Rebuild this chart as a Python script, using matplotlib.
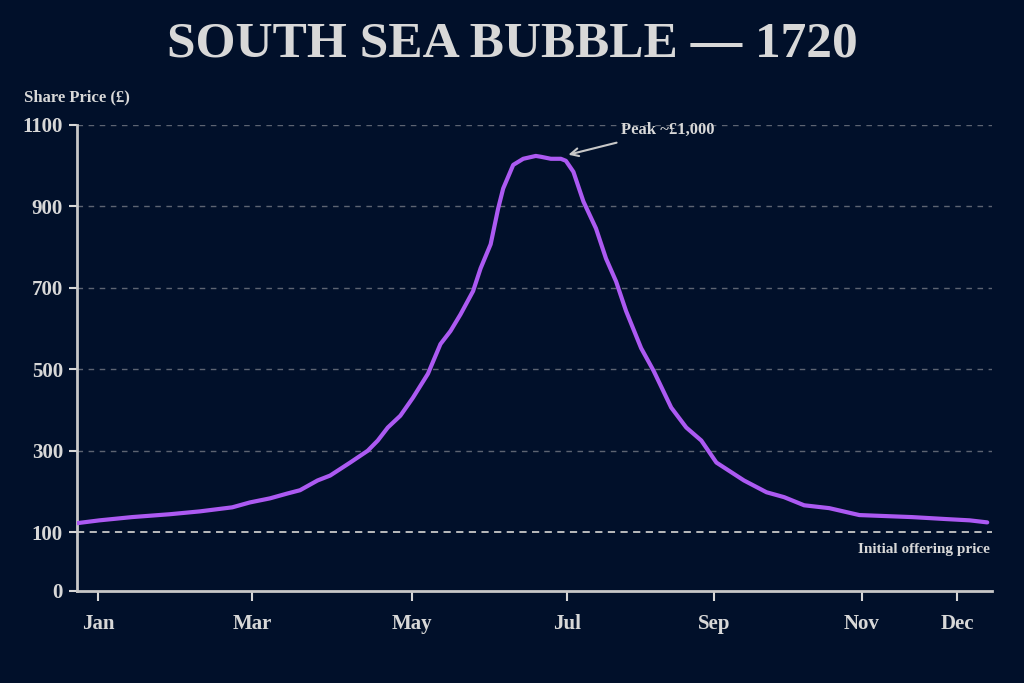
import numpy as np
import matplotlib
matplotlib.use("Agg")
import matplotlib.pyplot as plt

# ===> data (day of year, share price in pounds)
days = [0, 9, 22, 37, 49, 62, 69, 77, 84, 89, 96, 101, 109, 116, 120, 124, 129,
        134, 140, 145, 149, 153, 158, 161, 165, 168, 170, 174, 178, 183, 185, 189,
        193, 195, 198, 202, 207, 211, 215, 219, 225, 230, 237, 243, 249, 255, 266,
        275, 282, 290, 300, 312, 333, 347, 356, 363]
price = [122, 129, 137, 144, 151, 161, 173, 183, 195, 203, 227, 239, 271, 300, 325,
         357, 386, 430, 489, 562, 594, 635, 692, 748, 807, 895, 944, 1002, 1017,
         1024, 1022, 1017, 1017, 1012, 985, 912, 846, 772, 716, 643, 552, 496, 406,
         357, 325, 271, 227, 198, 186, 166, 159, 142, 137, 132, 129, 124]

month_pos = [8.4, 69.8, 133.6, 195.5, 254, 313, 351]
month_lab = ["Jan", "Mar", "May", "Jul", "Sep", "Nov", "Dec"]
y_grid = [300, 500, 700, 900, 1100]
offer_price = 100

bg = "#01102a"
fg = "#d8d8d8"
plt.rcParams['font.family'] = ['Liberation Serif', 'DejaVu Serif']
plt.rcParams['font.weight'] = 'bold'

fig = plt.figure(figsize=(10.24, 6.83), dpi=100, facecolor=bg)
ax = fig.add_axes([0.075, 0.135, 0.894, 0.682], facecolor=bg)

y_bottom = -44
ax.set_xlim(0, 365)
ax.set_ylim(y_bottom, 1100)

for g in y_grid:
    ax.axhline(g, color="#6e7480", lw=1, ls=(0, (4, 4)), alpha=0.85, zorder=1)
ax.axhline(offer_price, color="#c8c8c8", lw=1.3, ls=(0, (4, 3)), zorder=1)

ax.plot(days, price, color="#ac5af2", lw=3, solid_capstyle='round',
        solid_joinstyle='round', zorder=3)

ax.set_yticks([y_bottom, 100] + y_grid)
ax.set_yticklabels(["0", "100"] + [str(g) for g in y_grid])
ax.set_xticks(month_pos)
ax.set_xticklabels(month_lab)
ax.tick_params(axis='y', colors=fg, labelsize=15, length=6, width=1.5, pad=4)
ax.tick_params(axis='x', colors=fg, labelsize=15, length=7, width=1.5, pad=10)

for s in ["top", "right"]:
    ax.spines[s].set_visible(False)
for s in ["left", "bottom"]:
    ax.spines[s].set_color("#c8c8c8")
    ax.spines[s].set_linewidth(2)

ax.annotate("Peak ~£1,000", xy=(196, 1027), xytext=(217, 1088),
            color=fg, fontsize=12, fontweight='bold', va='center', ha='left',
            arrowprops=dict(arrowstyle='->', color="#c8c8c8", lw=1.5,
                            shrinkA=6, shrinkB=0, mutation_scale=14))

ax.text(364, 58, "Initial offering price", color=fg, fontsize=11,
        fontweight='bold', ha='right', va='center')

fig.text(0.023, 0.858, "Share Price (£)", color=fg, fontsize=12, fontweight='bold',
         ha='left', va='center')
fig.text(0.5, 0.935, "SOUTH SEA BUBBLE — 1720", color=fg, fontsize=37,
         fontweight='bold', ha='center', va='center')

fig.savefig("out.png", dpi=100, facecolor=bg)
